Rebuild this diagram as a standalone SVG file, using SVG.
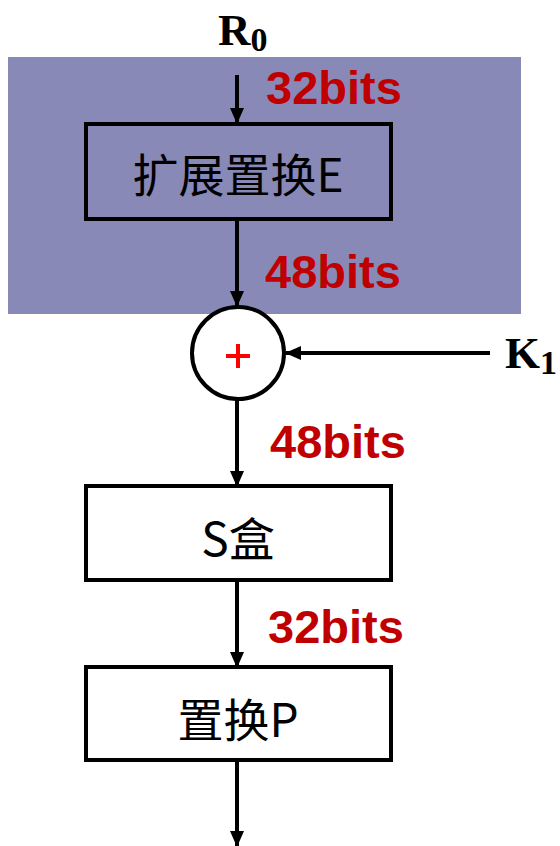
<svg xmlns="http://www.w3.org/2000/svg" width="560" height="846" viewBox="0 0 560 846">
<defs>
<marker id="ahb" markerWidth="16" markerHeight="16" refX="15" refY="8" orient="auto" markerUnits="userSpaceOnUse">
<path d="M0,1 L16,8 L0,15 Z" fill="#000"/>
</marker>
<style>
.box{fill:none;stroke:#000;stroke-width:4}
.wbox{fill:#fff;stroke:#000;stroke-width:4}
.lbl{font-family:"Noto Sans CJK SC","Noto Sans",sans-serif;font-size:46px;fill:#000;text-anchor:middle}
.bits{font-family:"Liberation Sans",Arial,sans-serif;font-weight:bold;font-size:47px;fill:#C00000}
.var{font-family:"Liberation Serif","Times New Roman",serif;font-weight:bold;fill:#000}
.conn{stroke:#000;stroke-width:4;fill:none;marker-end:url(#ahb)}
</style>
</defs>
<rect x="8" y="57" width="513" height="257" fill="#8889B7"/>
<g id="connectors">
<line class="conn" x1="237" y1="75" x2="237" y2="123"/>
<line class="conn" x1="237" y1="219" x2="237" y2="306"/>
<line class="conn" x1="490" y1="353" x2="286" y2="353"/>
<line class="conn" x1="237" y1="400" x2="237" y2="486"/>
<line class="conn" x1="237" y1="580" x2="237" y2="667"/>
<line class="conn" x1="237" y1="760" x2="237" y2="846"/>
</g>
<g id="R0"><text class="var" x="218" y="45" font-size="45">R<tspan font-size="34" dy="6">0</tspan></text></g>
<g id="K1"><text class="var" x="505" y="368" font-size="45">K<tspan font-size="34" dy="6">1</tspan></text></g>
<g id="nodeE">
<rect class="box" x="86" y="124" width="305" height="95"/>
<text class="lbl" x="238" y="192">扩展置换E</text>
</g>
<g id="xor">
<circle cx="238" cy="353" r="46" fill="#fff" stroke="#000" stroke-width="4"/>
<path d="M226,356 H250 M238,344 V368" stroke="#FF0000" stroke-width="4"/>
</g>
<g id="nodeS">
<rect class="wbox" x="86" y="486" width="305" height="94"/>
<text class="lbl" x="238" y="556">S盒</text>
</g>
<g id="nodeP">
<rect class="wbox" x="86" y="667" width="305" height="93"/>
<text class="lbl" x="238" y="737">置换P</text>
</g>
<g id="labels">
<text class="bits" x="266" y="104">32bits</text>
<text class="bits" x="265" y="288">48bits</text>
<text class="bits" x="270" y="458">48bits</text>
<text class="bits" x="268" y="643">32bits</text>
</g>
</svg>
